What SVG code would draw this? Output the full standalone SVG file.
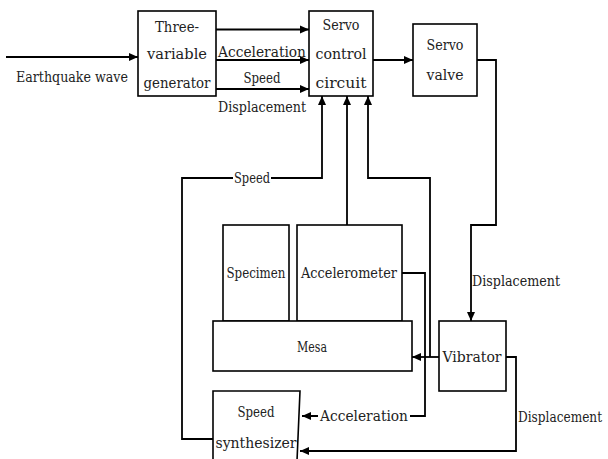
<svg xmlns="http://www.w3.org/2000/svg" width="608" height="459" viewBox="0 0 608 459">
<style>
.box{fill:#fff;stroke:#000;stroke-width:1.6}
.ar{fill:none;stroke:#000;stroke-width:1.8;marker-end:url(#ah)}
text{font-family:"DejaVu Serif Condensed","DejaVu Serif","Liberation Serif",serif;font-stretch:condensed;font-size:15px;fill:#222;text-anchor:middle}
</style>
<defs>
<marker id="ah" markerUnits="userSpaceOnUse" markerWidth="10" markerHeight="10" refX="9" refY="5" orient="auto">
<path d="M0,1 L9,5 L0,9 Z" fill="#000"/>
</marker>
</defs>
<rect width="608" height="459" fill="#fff"/>
<g id="connectors">
<path class="ar" d="M6,57 H138"/>
<path class="ar" d="M216,29.5 H309"/>
<path class="ar" d="M216,60 H309"/>
<path class="ar" d="M216,89 H309"/>
<path class="ar" d="M373,60 H413"/>
<path class="ar" d="M477,60 H496 V225 H471 V321"/>
<path class="ar" d="M213,439 H182 V178 H322 V96"/>
<path class="ar" d="M347,225 V96"/>
<path class="ar" d="M430,357 V178 H368 V96"/>
<path class="ar" d="M439,357 H412"/>
<path class="ar" d="M402,273 H425 V416 H302"/>
<path class="ar" d="M506,357 H516 V451 H300"/>
<rect x="233" y="170" width="38" height="16" fill="#fff"/>
<rect x="318" y="408" width="92" height="16" fill="#fff"/>
<text x="252" y="183" textLength="36" lengthAdjust="spacingAndGlyphs">Speed</text>
<text x="364" y="421" textLength="88" lengthAdjust="spacingAndGlyphs">Acceleration</text>
<text x="72" y="82" textLength="112" lengthAdjust="spacingAndGlyphs">Earthquake wave</text>
<text x="262" y="57" textLength="88" lengthAdjust="spacingAndGlyphs">Acceleration</text>
<text x="262" y="83" textLength="37" lengthAdjust="spacingAndGlyphs">Speed</text>
<text x="262" y="112" textLength="88" lengthAdjust="spacingAndGlyphs">Displacement</text>
<text x="516" y="286" textLength="88" lengthAdjust="spacingAndGlyphs">Displacement</text>
<text x="560" y="422" textLength="84" lengthAdjust="spacingAndGlyphs" style="font-size:14px">Displacement</text>
</g>
<g id="generator">
<rect class="box" x="138" y="11" width="78" height="85"/>
<text x="177" y="32" textLength="44" lengthAdjust="spacingAndGlyphs">Three-</text>
<text x="177" y="59" textLength="60" lengthAdjust="spacingAndGlyphs">variable</text>
<text x="177" y="88" textLength="67" lengthAdjust="spacingAndGlyphs">generator</text>
</g>
<g id="servo-control">
<rect class="box" x="309" y="11" width="64" height="85"/>
<text x="341" y="30" textLength="37" lengthAdjust="spacingAndGlyphs">Servo</text>
<text x="341" y="59" textLength="51" lengthAdjust="spacingAndGlyphs">control</text>
<text x="341" y="88" textLength="51" lengthAdjust="spacingAndGlyphs">circuit</text>
</g>
<g id="servo-valve">
<rect class="box" x="413" y="24" width="64" height="72"/>
<text x="445" y="50" textLength="37" lengthAdjust="spacingAndGlyphs">Servo</text>
<text x="445" y="80" textLength="37" lengthAdjust="spacingAndGlyphs">valve</text>
</g>
<g id="specimen">
<rect class="box" x="223" y="225" width="66" height="96"/>
<text x="256" y="278" textLength="59" lengthAdjust="spacingAndGlyphs">Specimen</text>
</g>
<g id="accelerometer">
<rect class="box" x="297" y="225" width="105" height="96"/>
<text x="349" y="278" textLength="96" lengthAdjust="spacingAndGlyphs">Accelerometer</text>
</g>
<g id="mesa">
<rect class="box" x="213" y="321" width="199" height="50"/>
<text x="312" y="352" textLength="30" lengthAdjust="spacingAndGlyphs">Mesa</text>
</g>
<g id="vibrator">
<rect class="box" x="439" y="321" width="67" height="70"/>
<text x="472" y="362" textLength="59" lengthAdjust="spacingAndGlyphs">Vibrator</text>
</g>
<g id="speed-synthesizer">
<path class="box" d="M213,461 V391 H300 L297,461"/>
<text x="256" y="417" textLength="37" lengthAdjust="spacingAndGlyphs">Speed</text>
<text x="256" y="448" textLength="81" lengthAdjust="spacingAndGlyphs">synthesizer</text>
</g>
</svg>
